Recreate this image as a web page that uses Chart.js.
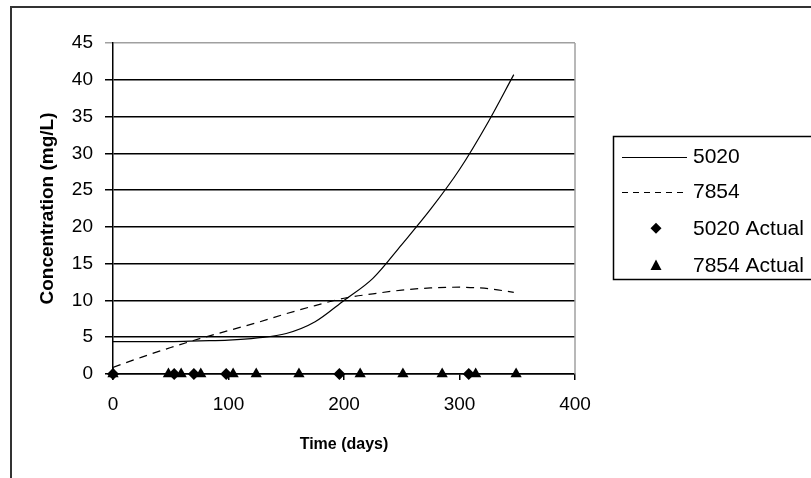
<!DOCTYPE html>
<html>
<head>
<meta charset="utf-8">
<script src="https://cdn.jsdelivr.net/npm/chart.js@4.4.1/dist/chart.umd.min.js"></script>
<style>
html,body{margin:0;padding:0;background:#fff;}
canvas{display:block;}
</style>
</head>
<body>
<canvas id="c" width="811" height="478"></canvas>
<script>
// ---- data ----
const days = [0, 25, 50, 75, 100, 125, 150, 175, 200, 225, 250, 275, 300, 325, 347];
const conc5020 = [4.4, 4.4, 4.4, 4.5, 4.6, 4.9, 5.5, 7.1, 10.0, 13.0, 17.6, 22.4, 27.8, 34.3, 40.7];
const conc7854 = [0.9, 2.3, 3.6, 4.8, 5.9, 7.0, 8.2, 9.3, 10.3, 10.9, 11.4, 11.7, 11.8, 11.6, 11.1];
const actualDays5020 = [0, 53, 70, 98, 196, 308];
const actualConc5020 = [0, 0, 0, 0, 0, 0];
const actualDays7854 = [0, 48, 59, 76, 104, 124, 161, 214, 251, 285, 314, 349];
const actualConc7854 = [0, 0, 0, 0, 0, 0, 0, 0, 0, 0, 0, 0];
const seriesLabels = ['5020', '7854', '5020 Actual', '7854 Actual'];
const xTitle = 'Time (days)';
const yTitle = 'Concentration (mg/L)';

const FONT = "'Liberation Sans', Arial, sans-serif";
const pts = (xs, ys) => xs.map((x, i) => ({x: x, y: ys[i]}));

const frame = {
  id: 'frame',
  beforeDraw(chart) {
    const c = chart.ctx;
    c.save();
    c.fillStyle = '#fff';
    c.fillRect(0, 0, chart.width, chart.height);
    c.strokeStyle = '#333';
    c.lineWidth = 2;
    c.strokeRect(11, 7, 1000, 1000);
    c.restore();
  },
  afterDatasetsDraw(chart) {
    const a = chart.chartArea, c = chart.ctx;
    c.save();
    c.strokeStyle = '#a0a0a0';
    c.lineWidth = 1.5;
    c.beginPath();
    c.moveTo(a.right, a.top);
    c.lineTo(a.right, a.bottom);
    c.stroke();
    c.restore();
  },
  afterDraw(chart) {
    const c = chart.ctx;
    c.save();
    c.strokeStyle = '#000';
    c.lineWidth = 1.5;
    c.strokeRect(613.5, 136.5, 300, 143);
    const ys = [156.7, 191.7, 228.3, 265];
    c.font = '21px ' + FONT;
    c.textBaseline = 'middle';
    c.fillStyle = '#000';
    chart.data.datasets.forEach((ds, i) => {
      const y = ys[i];
      if (ds.showLine) {
        c.strokeStyle = '#000';
        c.lineWidth = 1.2;
        c.setLineDash(ds.borderDash && ds.borderDash.length ? [6, 5] : []);
        c.beginPath();
        c.moveTo(622, Math.round(y) + 0.5);
        c.lineTo(687, Math.round(y) + 0.5);
        c.stroke();
        c.setLineDash([]);
      } else {
        c.fillStyle = '#000';
        c.beginPath();
        if (ds.pointStyle === 'triangle') {
          c.moveTo(656, y - 5.5);
          c.lineTo(661.5, y + 5);
          c.lineTo(650.5, y + 5);
        } else {
          c.moveTo(656, y - 5.5);
          c.lineTo(661.5, y);
          c.lineTo(656, y + 5.5);
          c.lineTo(650.5, y);
        }
        c.closePath();
        c.fill();
      }
      c.fillStyle = '#000';
      c.fillText(ds.label, 693, y + 1);
    });
    c.restore();
  }
};

new Chart(document.getElementById('c'), {
  type: 'scatter',
  data: {
    datasets: [
      {label: seriesLabels[0], data: pts(days, conc5020), showLine: true, borderColor: '#000', borderWidth: 1.2, pointRadius: 0, cubicInterpolationMode: 'monotone', fill: false},
      {label: seriesLabels[1], data: pts(days, conc7854), showLine: true, borderColor: '#000', borderWidth: 1.2, borderDash: [8, 6], pointRadius: 0, cubicInterpolationMode: 'monotone', fill: false},
      {label: seriesLabels[2], data: pts(actualDays5020, actualConc5020), showLine: false, clip: false, pointStyle: 'rectRot', pointRadius: 6, backgroundColor: '#000', borderColor: '#000', borderWidth: 0},
      {label: seriesLabels[3], data: pts(actualDays7854, actualConc7854), showLine: false, clip: false, pointStyle: 'triangle', pointRadius: 6.5, backgroundColor: '#000', borderColor: '#000', borderWidth: 0}
    ]
  },
  options: {
    responsive: false,
    animation: false,
    devicePixelRatio: 1,
    layout: {padding: {left: 0, top: 43, right: 236, bottom: 0}},
    plugins: {legend: {display: false}, tooltip: {enabled: false}},
    scales: {
      x: {
        type: 'linear', min: 0, max: 400,
        ticks: {stepSize: 100, color: '#000', font: {family: FONT, size: 19}, padding: 13, maxRotation: 0},
        grid: {drawOnChartArea: false, drawTicks: true, tickLength: 6, color: '#000', lineWidth: 1.5},
        border: {color: '#000', width: 1.5},
        title: {display: true, text: xTitle, color: '#000', font: {family: FONT, size: 16, weight: 'bold'}, padding: {top: 0, bottom: 24}},
        afterFit(s) { s.height = 104; }
      },
      y: {
        type: 'linear', min: 0, max: 45,
        ticks: {stepSize: 5, color: '#000', font: {family: FONT, size: 19}, padding: 12},
        grid: {drawTicks: true, tickLength: 8, color: (ctx) => (ctx.tick && ctx.tick.value === 45 ? '#a0a0a0' : '#000'), lineWidth: 1.5},
        border: {color: '#000', width: 1.5},
        title: {display: true, text: yTitle, color: '#000', font: {family: FONT, size: 19, weight: 'bold'}, padding: {top: 36, bottom: 0}},
        afterFit(s) { s.width = 113; }
      }
    }
  },
  plugins: [frame]
});
</script>
</body>
</html>
